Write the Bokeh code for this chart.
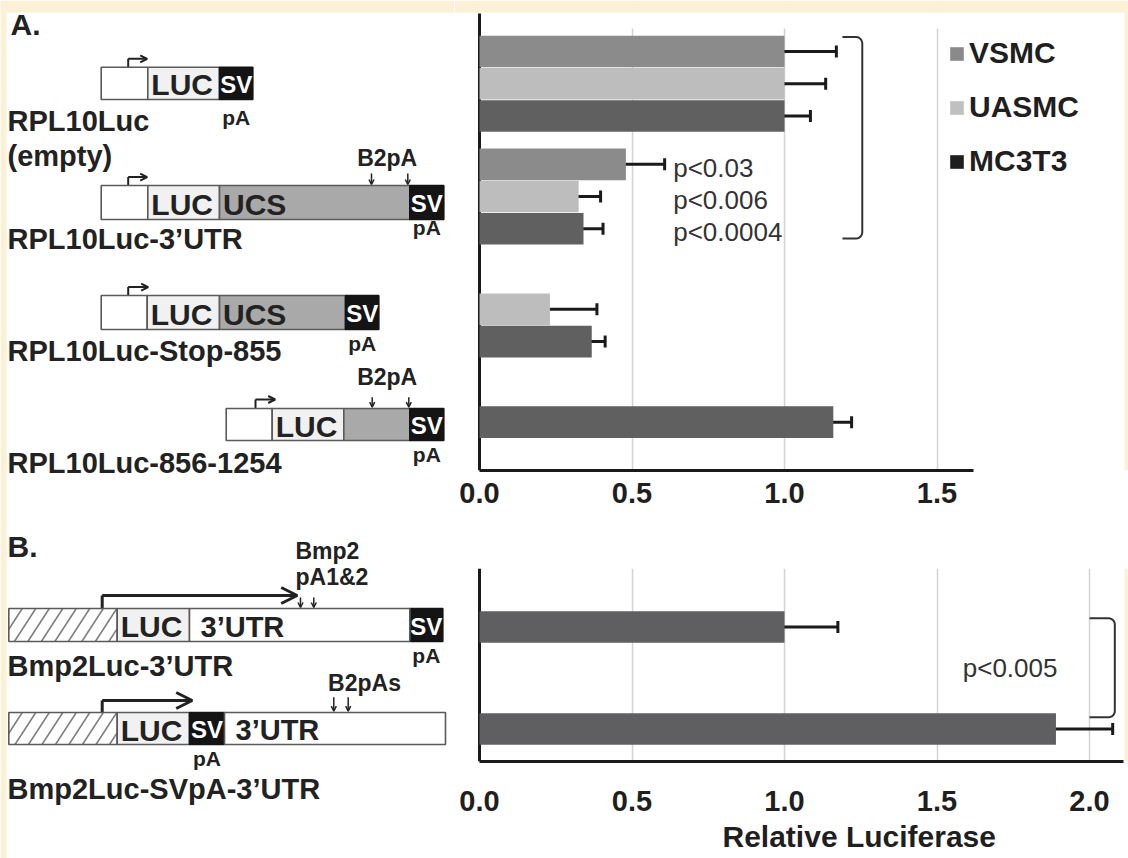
import numpy as np
from bokeh.plotting import figure
from bokeh.layouts import row, column
from bokeh.models import (Range1d, ColumnDataSource, Whisker, TeeHead, Legend, LegendItem,
                          FixedTicker, NumeralTickFormatter, Title, Arrow, OpenHead)
from bokeh.core.properties import value
from bokeh.embed import file_html
from bokeh.resources import INLINE

FONT = "Liberation Sans"
INK = "#222222"
CREAM = "#fcf0d6"

# ---------------- data: panel A ----------------
constructs_a = ["RPL10Luc (empty)", "RPL10Luc-3’UTR", "RPL10Luc-Stop-855", "RPL10Luc-856-1254"]
cells = ["VSMC", "UASMC", "MC3T3"]
vsmc = [1.00, 0.48, None, None]
vsmc_err = [0.17, 0.127, None, None]
uasmc = [1.00, 0.325, 0.231, None]
uasmc_err = [0.135, 0.072, 0.154, None]
mc3t3 = [1.00, 0.341, 0.368, 1.16]
mc3t3_err = [0.085, 0.064, 0.044, 0.06]
p_values_a = ["p<0.03", "p<0.006", "p<0.0004"]
ticks_a = [0.0, 0.5, 1.0, 1.5]

# ---------------- data: panel B ----------------
constructs_b = ["Bmp2Luc-3’UTR", "Bmp2Luc-SVpA-3’UTR"]
bmp2 = [1.00, 1.89]
bmp2_err = [0.175, 0.186]
p_value_b = "p<0.005"
ticks_b = [0.0, 0.5, 1.0, 1.5, 2.0]
x_title = "Relative Luciferase"

# ---------------- styles ----------------
bar_colors = {"VSMC": "#8b8b8b", "UASMC": "#bdbdbd", "MC3T3": "#606060"}
legend_colors = {"VSMC": "#8a8a8a", "UASMC": "#c0c0c0", "MC3T3": "#1e1e1e"}
bar_b_color = "#5f5f61"
PX = 305.0                      # pixels per unit of relative luciferase
XMIN = -25.0 / PX
XMAX = XMIN + 674.0 / PX
CREAM_X = (1124.0 - 479.0) / PX

# =============== left: construct diagrams (page-pixel coordinates) ===============
left = figure(width=454, height=858, x_range=Range1d(0, 454), y_range=Range1d(858, 0),
              x_axis_type=None, y_axis_type=None, output_backend="svg",
              toolbar_location=None, min_border=0)
left.outline_line_color = None
left.background_fill_color = "white"
left.quad(left=[0, 0], right=[454, 6], top=[0, 0], bottom=[12, 858], fill_color=CREAM, line_color=None)

seg_style = {
    "P": ("white", "#5a5a5a"),
    "H": ("white", "#5a5a5a"),
    "LUC": ("#f1f1f1", "#5a5a5a"),
    "UCS": ("#a9a9a9", "#5a5a5a"),
    "G": ("#a9a9a9", "#5a5a5a"),
    "SV": ("#141414", "#141414"),
    "UTR": ("white", "#5a5a5a"),
}
seg_text = {"LUC": ("LUC", 3.5, "30px"), "UCS": ("UCS", 3.5, "30px"), "UTR": ("3’UTR", 11, "29px")}

diagrams = [
    dict(x=100.7, y=66.7, h=32.3, segs=[("P", 46.6), ("LUC", 71.7), ("SV", 33.3)],
         arrow=(27.0, 8.4, 46.0, "small"), pa=117),
    dict(x=100.7, y=185.0, h=34.0, segs=[("P", 46.6), ("LUC", 71.7), ("UCS", 190.3), ("SV", 34.0)],
         arrow=(27.0, 8.4, 46.0, "small"), pa=227),
    dict(x=100.7, y=295.0, h=34.0, segs=[("P", 46.0), ("LUC", 72.3), ("UCS", 126.0), ("SV", 33.3)],
         arrow=(27.0, 8.4, 47.0, "small"), pa=343),
    dict(x=225.7, y=408.0, h=32.0, segs=[("P", 46.0), ("LUC", 71.6), ("G", 66.0), ("SV", 34.0)],
         arrow=(29.3, 9.0, 49.0, "small"), pa=454),
    dict(x=8.3, y=608.0, h=33.0, segs=[("H", 108.4), ("LUC", 72.3), ("UTR", 220.3), ("SV", 33.0)],
         arrow=(93.4, 13.0, 288.4, "big"), pa=655),
    dict(x=8.3, y=712.0, h=32.0, segs=[("H", 108.4), ("LUC", 72.3), ("SV", 35.0), ("UTR", 221.0)],
         arrow=(93.4, 12.0, 183.4, "big"), pa=758),
]

quads = {k: dict(left=[], right=[], top=[], bottom=[]) for k in seg_style}
txt = {"30px": dict(x=[], y=[], text=[]), "29px": dict(x=[], y=[], text=[])}
sv_txt = dict(x=[], y=[], text=[])
pa_txt = dict(x=[], y=[], text=[])
hatch = dict(x0=[], y0=[], x1=[], y1=[])

for d in diagrams:
    x = d["x"]
    y0, y1 = d["y"], d["y"] + d["h"]
    for kind, w in d["segs"]:
        q = quads[kind]
        q["left"].append(x); q["right"].append(x + w); q["top"].append(y0); q["bottom"].append(y1)
        if kind in seg_text:
            t, off, fs = seg_text[kind]
            tt = txt[fs]
            tt["x"].append(x + off); tt["y"].append((y0 + y1) / 2 + 1.5); tt["text"].append(t)
        if kind == "SV":
            sv_txt["x"].append(x + w / 2); sv_txt["y"].append((y0 + y1) / 2 + 1); sv_txt["text"].append("SV")
            pa_txt["x"].append(x + w / 2); pa_txt["y"].append(d["pa"]); pa_txt["text"].append("pA")
        if kind == "H":
            k = 0.65
            hh = y1 - y0
            c = x - k * hh
            while c < x + w:
                sx, sy = c, y1
                ex, ey = c + k * hh, y0
                if sx < x:
                    sy = y1 - (x - c) / k
                    sx = x
                if ex > x + w:
                    ey = y1 - (x + w - c) / k
                    ex = x + w
                if ex > sx + 0.5:
                    hatch["x0"].append(sx); hatch["y0"].append(sy)
                    hatch["x1"].append(ex); hatch["y1"].append(ey)
                c += 13.5
        x += w
    # promoter arrow
    ax, rise, aend, kind = d["arrow"]
    px = d["x"] + ax
    top = y0 - rise
    lw = 2 if kind == "small" else 3
    left.line([px, px], [y0, top], line_color=INK, line_width=lw)
    head = OpenHead(size=7 if kind == "small" else 16, line_width=lw, line_color=INK)
    left.add_layout(Arrow(x_start=px, y_start=top, x_end=d["x"] + aend, y_end=top,
                          line_color=INK, line_width=lw, end=head))

left.segment(x0="x0", y0="y0", x1="x1", y1="y1", source=ColumnDataSource(hatch),
             line_color="#7c7c7c", line_width=1.5)
for kind, (fc, lc) in seg_style.items():
    q = quads[kind]
    if not q["left"]:
        continue
    left.quad(source=ColumnDataSource(q), left="left", right="right", top="top", bottom="bottom",
              fill_color=fc, fill_alpha=0.0 if kind == "H" else 1.0, line_color=lc, line_width=1.6)

for fs, tt in txt.items():
    left.text(x="x", y="y", text="text", source=ColumnDataSource(tt), text_font=value(FONT),
              text_font_style="bold", text_font_size=fs, text_color=INK,
              text_baseline="middle", text_align="left")
left.text(x="x", y="y", text="text", source=ColumnDataSource(sv_txt), text_font=value(FONT),
          text_font_style="bold", text_font_size="24px", text_color="white",
          text_baseline="middle", text_align="center")
left.text(x="x", y="y", text="text", source=ColumnDataSource(pa_txt), text_font=value(FONT),
          text_font_style="bold", text_font_size="21px", text_color=INK,
          text_baseline="middle", text_align="center")

# pA-site down arrows and their labels
sites = [(371.0, 407.3, 173.0, 184.0), (371.7, 408.3, 396.7, 406.7),
         (300.0, 313.3, 597.0, 607.0), (333.3, 347.7, 696.7, 710.7)]
for xa, xb, ya, yb in sites:
    for xx in (xa, xb):
        left.add_layout(Arrow(x_start=xx, y_start=ya, x_end=xx, y_end=yb, line_color=INK,
                              line_width=1.5, end=OpenHead(size=5, line_width=1.5, line_color=INK)))
site_labels = dict(x=[386.7, 386.7, 364.0], y=[157.0, 376.7, 682.0], text=["B2pA", "B2pA", "B2pAs"])
left.text(x="x", y="y", text="text", source=ColumnDataSource(site_labels), text_font=value(FONT),
          text_font_style="bold", text_font_size="23px", text_color=INK,
          text_baseline="middle", text_align="center")
left.text(x=[295.0, 295.0], y=[550.0, 576.0], text=["Bmp2", "pA1&2"], text_font=value(FONT),
          text_font_style="bold", text_font_size="23px", text_color=INK,
          text_baseline="middle", text_align="left")

# construct names
name_lines = ["RPL10Luc", "(empty)", constructs_a[1], constructs_a[2], constructs_a[3],
              constructs_b[0], constructs_b[1]]
name_y = [120.0, 155.0, 238.0, 350.0, 462.0, 665.0, 788.0]
left.text(x=[7.0] * len(name_lines), y=name_y, text=name_lines, text_font=value(FONT),
          text_font_style="bold", text_font_size="29px", text_color=INK,
          text_baseline="middle", text_align="left")
left.text(x=[10.0, 7.0], y=[24.0, 546.0], text=["A.", "B."], text_font=value(FONT),
          text_font_style="bold", text_font_size="30px", text_color=INK,
          text_baseline="middle", text_align="left")


# =============== helpers for bar panels ===============
def style_xaxis(p, ticks, standoff, bounds):
    ax = p.xaxis[0]
    ax.ticker = FixedTicker(ticks=ticks)
    ax.formatter = NumeralTickFormatter(format="0.0")
    ax.bounds = bounds
    ax.axis_line_width = 3
    ax.axis_line_color = "#1a1a1a"
    ax.major_tick_line_color = None
    ax.minor_tick_line_color = None
    ax.major_tick_out = 0
    ax.major_tick_in = 0
    ax.major_label_standoff = standoff
    ax.major_label_text_font = FONT
    ax.major_label_text_font_style = "bold"
    ax.major_label_text_font_size = "29px"
    ax.major_label_text_color = "#1f1f1f"
    g = p.xgrid[0]
    g.ticker = FixedTicker(ticks=ticks)
    g.grid_line_color = "#d2d2d2"
    g.grid_line_width = 1.5
    p.outline_line_color = None


def bracket(p, x0, x1, top, bottom, rx, ry):
    t = np.linspace(0, np.pi / 2, 7)
    xs = [x0] + list(x1 - rx + rx * np.sin(t)) + list(x1 - rx + rx * np.cos(t)) + [x0]
    ys = [top] + list(top + ry - ry * np.cos(t)) + list(bottom - ry + ry * np.sin(t)) + [bottom]
    p.line(xs, ys, line_color="#333333", line_width=2)


# =============== panel A chart ===============
first_slot = [0, 0, 0, 1]
GROUP_PAD = 0.5
starts = []
acc = 0
for g, fs in enumerate(first_slot):
    starts.append(acc + g * GROUP_PAD)
    acc += len(cells) - fs
y_end_a = acc + (len(first_slot) - 1) * GROUP_PAD + 1.0   # bottom of plot
UNIT_A = 456.0 / (y_end_a + 0.65)                           # px per slot
y_top_a = -0.65 - 14.0 / UNIT_A                             # frame reaches page top


def ypos(g, s):
    return starts[g] + (s - first_slot[g]) + 0.5


def ya_px(px):
    return -0.65 + (px - 14.0) / UNIT_A


pa = figure(width=674, height=530, x_range=Range1d(XMIN, XMAX), y_range=Range1d(y_end_a, y_top_a),
            y_axis_type=None, output_backend="svg", toolbar_location=None,
            min_border_left=0, min_border_right=0, min_border_top=0, min_border_bottom=60)
style_xaxis(pa, ticks_a, 12, (0, 1.62))

# page border strips and the white space above the grid
pa.quad(left=[XMIN], right=[XMAX], top=[y_top_a], bottom=[ya_px(28)], fill_color="white", line_color=None)
pa.quad(left=[XMIN, CREAM_X], right=[XMAX, XMAX], top=[y_top_a, y_top_a], bottom=[ya_px(12), y_end_a],
        fill_color=CREAM, line_color=None)
pa.segment(x0=[0], y0=[ya_px(13)], x1=[0], y1=[y_end_a], line_color="#1a1a1a", line_width=3)

series_vals = {"VSMC": (vsmc, vsmc_err), "UASMC": (uasmc, uasmc_err), "MC3T3": (mc3t3, mc3t3_err)}
for s, name in enumerate(cells):
    vals, errs = series_vals[name]
    ys, vs, lo, hi = [], [], [], []
    for g, (v, e) in enumerate(zip(vals, errs)):
        if v is None:
            continue
        ys.append(ypos(g, s)); vs.append(v); lo.append(v - e); hi.append(v + e)
    src = ColumnDataSource(dict(y=ys, v=vs, lo=lo, hi=hi))
    pa.hbar(y="y", right="v", left=0, height=0.98, source=src,
            fill_color=bar_colors[name], line_color=None)
    pa.add_layout(Whisker(source=src, base="y", lower="lo", upper="hi", dimension="width",
                          line_color="#1a1a1a", line_width=3,
                          lower_head=TeeHead(size=12, line_width=3, line_color="#1a1a1a"),
                          upper_head=TeeHead(size=12, line_width=3, line_color="#1a1a1a")))

pa.text(x=[0.635] * 3, y=[ypos(1, s) + 0.1 for s in range(3)], text=p_values_a,
        text_font=value(FONT), text_font_size="26px", text_color="#333333",
        text_baseline="middle", text_align="left")
bx0 = max(v + e for v, e in [(vsmc[0], vsmc_err[0]), (uasmc[0], uasmc_err[0]), (mc3t3[0], mc3t3_err[0])]) + 0.02
bracket(pa, bx0, bx0 + 0.065, starts[0] + 0.05, starts[1] + 3 - 0.2, 0.02, 0.2)

# legend swatches (placed outside the visible x range; only their legend glyphs show)
proxies = [pa.quad(left=[-2.0], right=[-1.9], top=[0.0], bottom=[1.0],
                   fill_color=legend_colors[n], line_color=None) for n in cells]
legend = Legend(items=[LegendItem(label=n, renderers=[r]) for n, r in zip(cells, proxies)],
                location=(494, 292), orientation="vertical",
                border_line_color=None, background_fill_alpha=0.0, padding=0, margin=0,
                spacing=20, glyph_width=17, glyph_height=17, label_standoff=4,
                label_text_font=FONT, label_text_font_style="bold", label_text_font_size="30px",
                label_text_color="#1f1f1f")
pa.add_layout(legend)

# =============== panel B chart ===============
pb = figure(width=674, height=328, x_range=Range1d(XMIN, XMAX), y_range=Range1d(1.319, -0.574),
            y_axis_type=None, output_backend="svg", toolbar_location=None,
            min_border_left=0, min_border_right=0, min_border_top=38, min_border_bottom=97)
style_xaxis(pb, ticks_b, 29, (0, 2.11))
pb.quad(left=[CREAM_X], right=[XMAX], top=[-0.574], bottom=[1.319], fill_color=CREAM, line_color=None)
pb.segment(x0=[0], y0=[-0.574], x1=[0], y1=[1.319], line_color="#1a1a1a", line_width=3)

ys_b = list(range(len(constructs_b)))
src_b = ColumnDataSource(dict(y=ys_b, v=bmp2, lo=[v - e for v, e in zip(bmp2, bmp2_err)],
                              hi=[v + e for v, e in zip(bmp2, bmp2_err)]))
pb.hbar(y="y", right="v", left=0, height=0.31, source=src_b, fill_color=bar_b_color, line_color=None)
pb.add_layout(Whisker(source=src_b, base="y", lower="lo", upper="hi", dimension="width",
                      line_color="#1a1a1a", line_width=3,
                      lower_head=TeeHead(size=12, line_width=3, line_color="#1a1a1a"),
                      upper_head=TeeHead(size=12, line_width=3, line_color="#1a1a1a")))
pb.text(x=[1.895], y=[0.4], text=[p_value_b], text_font=value(FONT), text_font_size="26px",
        text_color="#333333", text_baseline="middle", text_align="right")
bracket(pb, 2.0, 2.083, -0.085, 0.885, 0.02, 0.06)
pb.add_layout(Title(text=x_title, align="left", offset=268, standoff=8,
                    text_font=FONT, text_font_style="bold", text_font_size="30px",
                    text_color="#1f1f1f"), "below")

layout = row(left, column(pa, pb))
open("out.html", "w").write(file_html(layout, INLINE))
